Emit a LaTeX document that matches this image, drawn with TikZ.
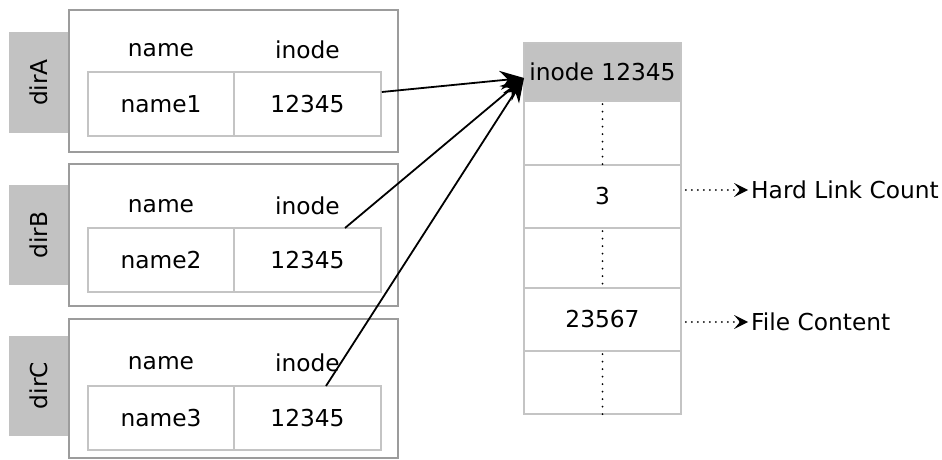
\documentclass[tikz,border=0pt]{standalone}
\usepackage{fontspec}
\setmainfont{DejaVu Sans}
\usetikzlibrary{arrows.meta}
\definecolor{tabgray}{HTML}{C2C2C2}
\definecolor{outergray}{HTML}{9C9C9C}
\definecolor{innergray}{HTML}{C4C4C4}
\tikzset{
  every node/.style={font=\fontsize{23.3}{28}\selectfont, text=black, inner sep=0pt},
  outerbox/.style={draw=outergray, line width=1.6pt, minimum width=329pt, minimum height=142pt},
  tabbox/.style={fill=tabgray, minimum width=60pt, minimum height=100pt},
  cellbox/.style={draw=innergray, line width=1.6pt, minimum height=64pt},
  inodecell/.style={draw=innergray, line width=1.6pt, minimum width=157pt},
  linkarrow/.style={draw=black, line width=1.8pt, -{Stealth[length=24pt,width=19pt]}},
  notearrow/.style={draw=black, line width=2pt, line cap=round, dash pattern=on 0pt off 6pt, -{Stealth[length=14pt,width=14pt,inset=6pt,line width=0pt]}},
  vdots/.style={draw=black, line width=2pt, line cap=round, dash pattern=on 0pt off 7.5pt}
}
\begin{document}
\begin{tikzpicture}[x=1pt,y=-1pt]
\useasboundingbox (0,0) rectangle (942,460);
% dirA
\node[tabbox] (tabA) at (39,82.5) {};
\node[rotate=90] (labA) at (tabA.center) {dirA};
\node[outerbox] (outA) at (233.5,81) {};
\node (hnA) at (161,50) {name};
\node (hiA) at (307.5,50) {inode};
\node[cellbox, minimum width=146pt] (nA) at (161,104) {name1};
\node[cellbox, minimum width=147pt] (iA) at (307.5,104) {12345};
% dirB
\node[tabbox] (tabB) at (39,235) {};
\node[rotate=90] (labB) at (tabB.center) {dirB};
\node[outerbox] (outB) at (233.5,235) {};
\node (hnB) at (161,206) {name};
\node (hiB) at (307.5,206) {inode};
\node[cellbox, minimum width=146pt] (nB) at (161,260) {name2};
\node[cellbox, minimum width=147pt] (iB) at (307.5,260) {12345};
% dirC
\node[tabbox] (tabC) at (39,385.5) {};
\node[rotate=90] (labC) at (tabC.center) {dirC};
\node[outerbox, minimum height=139pt] (outC) at (233.5,388.5) {};
\node (hnC) at (161,363) {name};
\node (hiC) at (307.5,363) {inode};
\node[cellbox, minimum width=146pt] (nC) at (161,418) {name3};
\node[cellbox, minimum width=147pt] (iC) at (307.5,418) {12345};
% inode table
\node[inodecell, fill=tabgray, minimum height=58pt] (r1) at (602.5,72) {inode 12345};
\node[inodecell, minimum height=64pt] (r2) at (602.5,133) {};
\node[inodecell, minimum height=63pt] (r3) at (602.5,196.5) {3};
\node[inodecell, minimum height=60pt] (r4) at (602.5,258) {};
\node[inodecell, minimum height=63pt] (r5) at (602.5,319.5) {23567};
\node[inodecell, minimum height=63pt] (r6) at (602.5,382.5) {};
\draw[vdots] ([yshift=-4]r2.north) -- (r2.south);
\draw[vdots] ([yshift=-4]r4.north) -- (r4.south);
\draw[vdots] ([yshift=-4]r6.north) -- (r6.south);
% notes
\node[anchor=west] (hlc) at (751,190) {Hard Link Count};
\node[anchor=west] (fc) at (751,322) {File Content};
\draw[notearrow] (r3.east) ++(4,-6.5) coordinate (s3) -- ([xshift=-3pt]hlc.west |- s3);
\draw[notearrow] (r5.east) ++(4,2.5) coordinate (s5) -- ([xshift=-3pt]fc.west |- s5);
% links
\coordinate (tip) at (524,78);
\draw[linkarrow] (iA.east) ++(0,-12) coordinate (aA) -- (tip);
\coordinate (aB) at (345,228);
\draw[linkarrow] (aB) -- (tip);
\coordinate (aC) at (326,386);
\draw[linkarrow] (aC) -- (tip);
\end{tikzpicture}
\end{document}
